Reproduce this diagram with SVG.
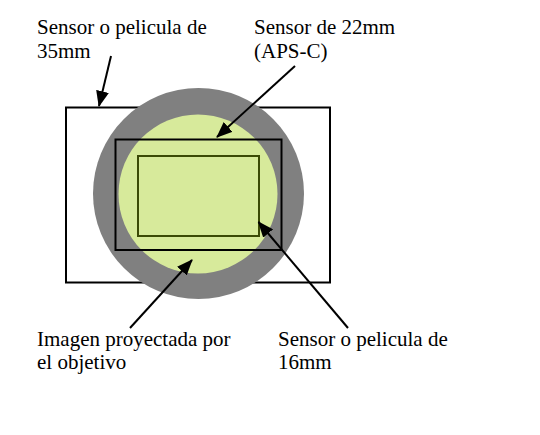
<svg xmlns="http://www.w3.org/2000/svg" width="540" height="435" viewBox="0 0 540 435">
<style>
  text { font-family: "Liberation Serif", "Times New Roman", serif; font-size: 21px; fill: #000; }
  .frame { fill: none; stroke: #000; stroke-width: 2; }
  .conn { stroke: #000; stroke-width: 2; fill: none; marker-end: url(#arrow); }
</style>
<defs>
  <marker id="arrow" markerUnits="userSpaceOnUse" markerWidth="16" markerHeight="13" refX="15" refY="6.5" orient="auto">
    <path d="M0,0 L16,6.5 L0,13 z" fill="#000"/>
  </marker>
</defs>
<rect width="540" height="435" fill="#fff"/>
<g id="sensor35">
  <rect class="frame" x="66" y="107.5" width="264" height="175"/>
</g>
<g id="imagen">
  <circle cx="198.5" cy="193.5" r="105.5" fill="#808080"/>
  <circle cx="198" cy="194" r="79.5" fill="#d7ea9b"/>
</g>
<g id="sensor22">
  <rect class="frame" x="115.5" y="139.5" width="166" height="110.5"/>
</g>
<g id="sensor16">
  <rect x="138" y="156" width="121" height="80" fill="#d7ea9b" stroke="#3b4a05" stroke-width="2"/>
</g>
<g id="connectors">
  <line class="conn" x1="111" y1="56" x2="99" y2="106"/>
  <line class="conn" x1="295" y1="66" x2="217" y2="137"/>
  <line class="conn" x1="130" y1="328" x2="192" y2="260"/>
  <line class="conn" x1="348" y1="328" x2="258.5" y2="222"/>
</g>
<g id="labels">
  <text x="37" y="34">Sensor o pelicula de</text>
  <text x="37" y="57.5">35mm</text>
  <text x="254" y="34">Sensor de 22mm</text>
  <text x="254" y="57.5">(APS-C)</text>
  <text x="37" y="346">Imagen proyectada por</text>
  <text x="37" y="369">el objetivo</text>
  <text x="278" y="346">Sensor o pelicula de</text>
  <text x="278" y="369">16mm</text>
</g>
</svg>
